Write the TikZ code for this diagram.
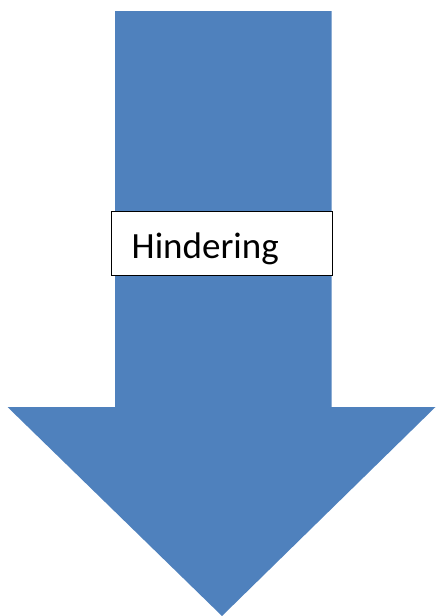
\documentclass[tikz,border=0pt]{standalone}
\usepackage{fontspec}
\setmainfont{Carlito}
\definecolor{arrowblue}{RGB}{79,129,189}
\tikzset{
  labelbox/.style={draw=black, fill=white, line width=0.9pt, minimum width=221pt,
    minimum height=64pt, inner sep=0pt},
  labeltext/.style={inner sep=0pt, font=\fontsize{37}{40}\selectfont}
}
\begin{document}
\begin{tikzpicture}[x=1pt, y=-1pt]
  \useasboundingbox (0,0) rectangle (436,616);
  % big arrow
  \fill[arrowblue] (115,11) -- (331.5,11) -- (331.5,407) -- (435.5,407) --
    (222,616) -- (7.5,407) -- (115,407) -- cycle;
  \node[labelbox, anchor=north west] (hindering) at (110.5,210.5) {};
  \node[labeltext, anchor=base west] (hinderingtext) at (131.5,258) {Hindering};
\end{tikzpicture}
\end{document}
